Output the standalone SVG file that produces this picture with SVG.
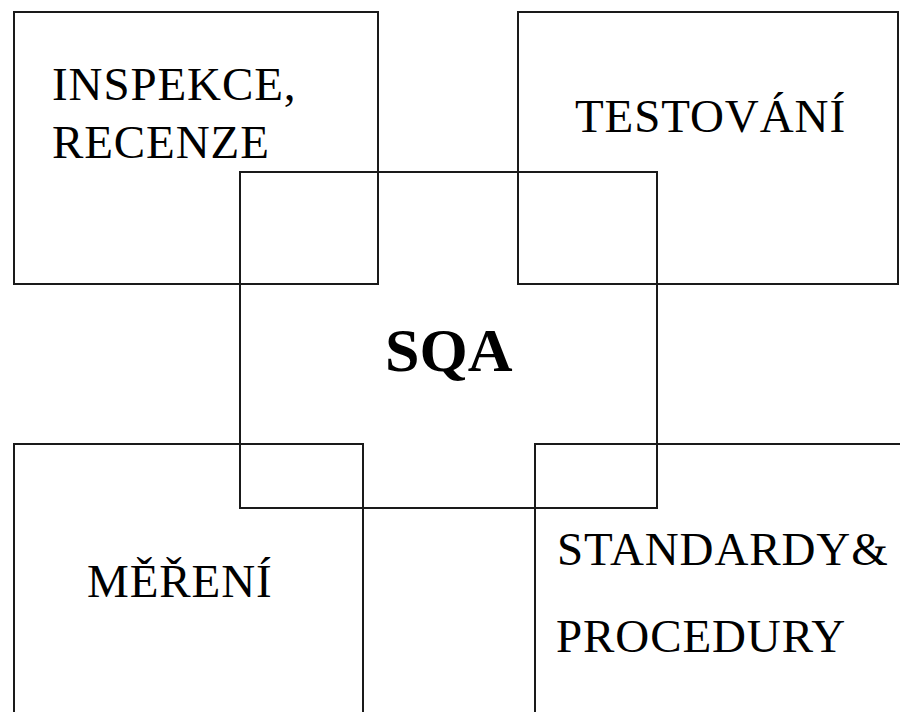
<svg xmlns="http://www.w3.org/2000/svg" width="900" height="712" viewBox="0 0 900 712">
<style>
.box{fill:none;stroke:#1a1a1a;stroke-width:2}
.lbl{font-family:"Liberation Serif","Times New Roman",serif;font-size:47px;letter-spacing:0.9px;fill:#000}
.big{font-family:"Liberation Serif","Times New Roman",serif;font-size:62px;font-weight:bold;fill:#000}
</style>
<rect x="0" y="0" width="900" height="712" fill="#fff"/>
<g id="inspekce">
<rect class="box" x="14" y="12" width="364" height="272"/>
<text class="lbl" x="52" y="100">INSPEKCE,</text>
<text class="lbl" x="52" y="158">RECENZE</text>
</g>
<g id="testovani">
<rect class="box" x="518" y="12" width="380" height="272"/>
<text class="lbl" x="575" y="132">TESTOVÁNÍ</text>
</g>
<g id="mereni">
<rect class="box" x="14" y="444" width="349" height="290"/>
<text class="lbl" x="87" y="597">MĚŘENÍ</text>
</g>
<g id="standardy">
<rect class="box" x="535" y="444" width="380" height="290"/>
<text class="lbl" x="557" y="565">STANDARDY&amp;</text>
<text class="lbl" x="556" y="652">PROCEDURY</text>
</g>
<g id="sqa">
<rect class="box" x="240" y="172" width="417" height="336"/>
<text class="big" x="385" y="371">SQA</text>
</g>
<g id="connectors"></g>
</svg>
